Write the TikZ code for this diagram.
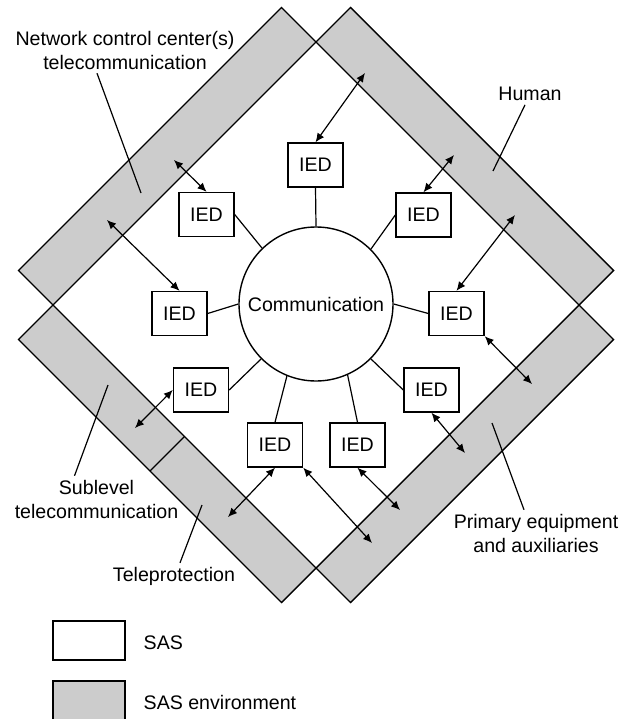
\documentclass[tikz,border=0pt]{standalone}
\usepackage{fontspec}
\setmainfont{Liberation Sans}
\usetikzlibrary{positioning, arrows.meta}

\begin{document}
\begin{tikzpicture}[x=1pt, y=-1pt, line width=1.4pt,
    font=\fontsize{19.6}{24}\selectfont,
    band/.style={draw, fill=black!20, line join=miter},
    iedbox/.style={draw, fill=white, minimum width=55pt, minimum height=44pt, inner sep=0pt},
    biarrow/.style={{Latex[length=9pt,width=8pt]}-{Latex[length=9pt,width=8pt]}, line width=1.2pt},
    leader/.style={line width=1.2pt},
    legbox/.style={draw, minimum width=72pt, minimum height=39pt, inner sep=0pt}]
    \useasboundingbox (0,0) rectangle (628,719);

    % Fasce dell'ambiente SAS
    \draw[band] (316,42) -- (53,305) -- (18.5,270.5) -- (281.5,7.5) -- cycle; % top left
    \draw[band] (316,42) -- (579,305) -- (613.5,270.5) -- (350.5,7.5) -- cycle; % top right
    \draw[band] (53,305) -- (316,568) -- (281.5,602.5) -- (18.5,339.5) -- cycle; % bottom left
    \draw[band] (579,305) -- (316,568) -- (350.5,602.5) -- (613.5,339.5) -- cycle; % bottom right
    \draw (184.5,436.5) -- (150,471); % divisione sublevel / teleprotection

    % Anello di comunicazione
    \node[draw, circle, fill=white, minimum size=154pt, inner sep=0pt] (comm) at (316,304) {Communication};

    % IED
    \foreach \n/\p in {1/{(315.5,165)}, 2/{(206.5,214.5)}, 3/{(423.5,215)},
                       4/{(179.5,313.5)}, 5/{(456.5,313.5)}, 6/{(201,390)},
                       7/{(431.5,390)}, 8/{(275,445)}, 9/{(357.5,445)}}
        \node[iedbox] (ied\n) at \p {IED};

    % Collegamenti al bus
    \foreach \a/\b/\n in {90/south/1, 134/east/2, 45/west/3, 180/east/4, 0/west/5,
                          225/east/6, -45/west/7, 248/north/8, -66/north/9}
        \draw[line width=1.2pt] (comm.\a) -- (ied\n.\b);

    % Punti nelle fasce
    \coordinate (h1) at (365,73);
    \coordinate (h2) at (454,155);
    \coordinate (h3) at (515,215);
    \coordinate (n1) at (174,160);
    \coordinate (n2) at (107,220);
    \coordinate (s1) at (135,428);
    \coordinate (t1) at (228,517);
    \coordinate (p1) at (532,384);
    \coordinate (p2) at (465,453);
    \coordinate (p3) at (400,510);
    \coordinate (p4) at (372,543);

    % Frecce bidirezionali
    \foreach \i/\c in {1.north/h1, 3.north/h2, 5.north/h3, 2.north/n1, 4.north/n2,
                       6.west/s1, 8.south/t1, 5.south east/p1, 7.south/p2,
                       9.south/p3, 8.south east/p4}
        \draw[biarrow] (ied\i) -- (\c);

    % Etichette
    \node[align=center] (ncc) at (125,50) {Network control center(s)\\telecommunication};
    \node (human) at (530,94) {Human};
    \node[align=center] (sub) at (96.5,499) {Sublevel\\telecommunication};
    \node (tele) at (174,576) {Teleprotection};
    \node[align=center] (prim) at (536,533) {Primary equipment\\and auxiliaries};

    \coordinate (nccend) at (141,193);
    \coordinate (humanend) at (493,171);
    \coordinate (subend) at (108,385);
    \coordinate (teleend) at (202,505);
    \coordinate (primend) at (492,423);
    \draw[leader] ([xshift=-28pt]ncc.south) -- (nccend);
    \draw[leader] ([xshift=-5pt]human.south) -- (humanend);
    \draw[leader] ([xshift=-22pt]sub.north) -- (subend);
    \draw[leader] ([xshift=6pt]tele.north) -- (teleend);
    \draw[leader] ([xshift=-12pt]prim.north) -- (primend);

    % Legenda
    \node[legbox, fill=white] (legsas) at (89,640.5) {};
    \node[legbox, fill=black!20, minimum height=44pt] (legenv) at (89,703) {};
    \node[anchor=west, inner sep=0pt] (legsastxt) at (143,643) {SAS};
    \node[anchor=west, inner sep=0pt] (legenvtxt) at (143,702) {SAS environment};

\end{tikzpicture}
\end{document}
